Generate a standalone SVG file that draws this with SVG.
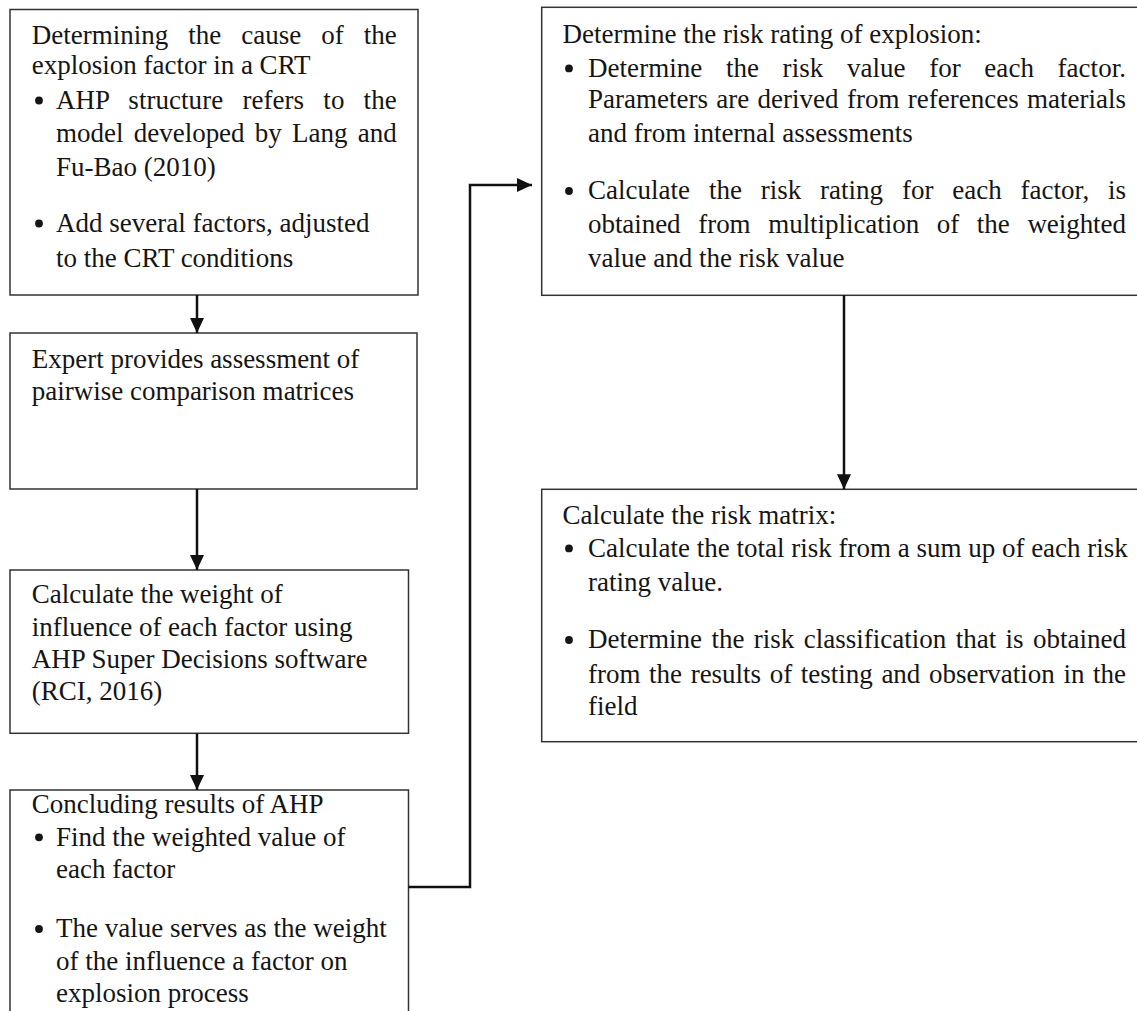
<svg xmlns="http://www.w3.org/2000/svg" width="1137" height="1011" viewBox="0 0 1137 1011">
<style>
.box{fill:#fff;stroke:#333;stroke-width:1.5}
.t{font-family:"Liberation Serif","Times New Roman",serif;font-size:27px;fill:#151515}
.b{fill:#151515}
.c{fill:none;stroke:#111;stroke-width:2.5}
</style>
<defs>
<marker id="ah" viewBox="0 0 10 10" refX="10" refY="5" markerWidth="15" markerHeight="14" markerUnits="userSpaceOnUse" orient="auto" preserveAspectRatio="none">
<path d="M0,0 L10,5 L0,10 z" fill="#111"/>
</marker>
</defs>
<rect width="1137" height="1011" fill="#fff"/>

<g id="n1">
<rect class="box" x="10" y="9.5" width="408" height="285.5"/>
<text class="t" x="31.7" y="44" word-spacing="13.3" textLength="365" lengthAdjust="spacing">Determining the cause of the</text>
<text class="t" x="31.7" y="74">explosion factor in a CRT</text>
<circle class="b" cx="39" cy="100.5" r="3.9"/>
<text class="t" x="56" y="109" word-spacing="12.4" textLength="340.7" lengthAdjust="spacing">AHP structure refers to the</text>
<text class="t" x="56" y="142" word-spacing="3.5" textLength="340.7" lengthAdjust="spacing">model developed by Lang and</text>
<text class="t" x="56" y="176">Fu-Bao (2010)</text>
<circle class="b" cx="39" cy="223.5" r="3.9"/>
<text class="t" x="56" y="232">Add several factors, adjusted</text>
<text class="t" x="56" y="267">to the CRT conditions</text>
</g>

<g id="n2">
<rect class="box" x="10" y="333" width="407" height="156"/>
<text class="t" x="31.7" y="368">Expert provides assessment of</text>
<text class="t" x="31.7" y="400">pairwise comparison matrices</text>
</g>

<g id="n3">
<rect class="box" x="10" y="570" width="398.5" height="163.3"/>
<text class="t" x="31.7" y="603">Calculate the weight of</text>
<text class="t" x="31.7" y="636">influence of each factor using</text>
<text class="t" x="31.7" y="668">AHP Super Decisions software</text>
<text class="t" x="31.7" y="700">(RCI, 2016)</text>
</g>

<g id="n4">
<rect class="box" x="10" y="790" width="398.5" height="260"/>
<text class="t" x="31.7" y="812.6">Concluding results of AHP</text>
<circle class="b" cx="39" cy="837.3" r="3.9"/>
<text class="t" x="56" y="845.6">Find the weighted value of</text>
<text class="t" x="56" y="877.8">each factor</text>
<circle class="b" cx="39" cy="929" r="3.9"/>
<text class="t" x="56" y="937.4">The value serves as the weight</text>
<text class="t" x="56" y="970.3">of the influence a factor on</text>
<text class="t" x="56" y="1002">explosion process</text>
</g>

<g id="n5">
<rect class="box" x="541.7" y="7.3" width="620" height="288"/>
<text class="t" x="562.5" y="42.7">Determine the risk rating of explosion:</text>
<circle class="b" cx="569" cy="68.4" r="3.9"/>
<text class="t" x="588" y="76.7" word-spacing="16.8" textLength="538" lengthAdjust="spacing">Determine the risk value for each factor.</text>
<text class="t" x="588" y="108.3" word-spacing="1.6" textLength="538" lengthAdjust="spacing">Parameters are derived from references materials</text>
<text class="t" x="588" y="141.7">and from internal assessments</text>
<circle class="b" cx="569" cy="191" r="3.9"/>
<text class="t" x="588" y="199.3" word-spacing="12" textLength="538" lengthAdjust="spacing">Calculate the risk rating for each factor, is</text>
<text class="t" x="588" y="233.3" word-spacing="11" textLength="538" lengthAdjust="spacing">obtained from multiplication of the weighted</text>
<text class="t" x="588" y="266.7">value and the risk value</text>
</g>

<g id="n6">
<rect class="box" x="541.7" y="489.3" width="620" height="252.4"/>
<text class="t" x="562.5" y="524.3">Calculate the risk matrix:</text>
<circle class="b" cx="569" cy="548.4" r="3.9"/>
<text class="t" x="588" y="556.7">Calculate the total risk from a sum up of each risk</text>
<text class="t" x="588" y="591">rating value.</text>
<circle class="b" cx="569" cy="640" r="3.9"/>
<text class="t" x="588" y="648.3" word-spacing="2.7" textLength="538" lengthAdjust="spacing">Determine the risk classification that is obtained</text>
<text class="t" x="588" y="682.7" word-spacing="1.9" textLength="538" lengthAdjust="spacing">from the results of testing and observation in the</text>
<text class="t" x="588" y="715">field</text>
</g>

<g id="connectors">
<line class="c" x1="197" y1="295" x2="197" y2="333" marker-end="url(#ah)"/>
<line class="c" x1="197" y1="489" x2="197" y2="570" marker-end="url(#ah)"/>
<line class="c" x1="197" y1="733.3" x2="197" y2="790" marker-end="url(#ah)"/>
<path class="c" d="M408.5,887 H470 V185 H532" marker-end="url(#ah)"/>
<line class="c" x1="844" y1="295.3" x2="844" y2="489.3" marker-end="url(#ah)"/>
</g>
</svg>
